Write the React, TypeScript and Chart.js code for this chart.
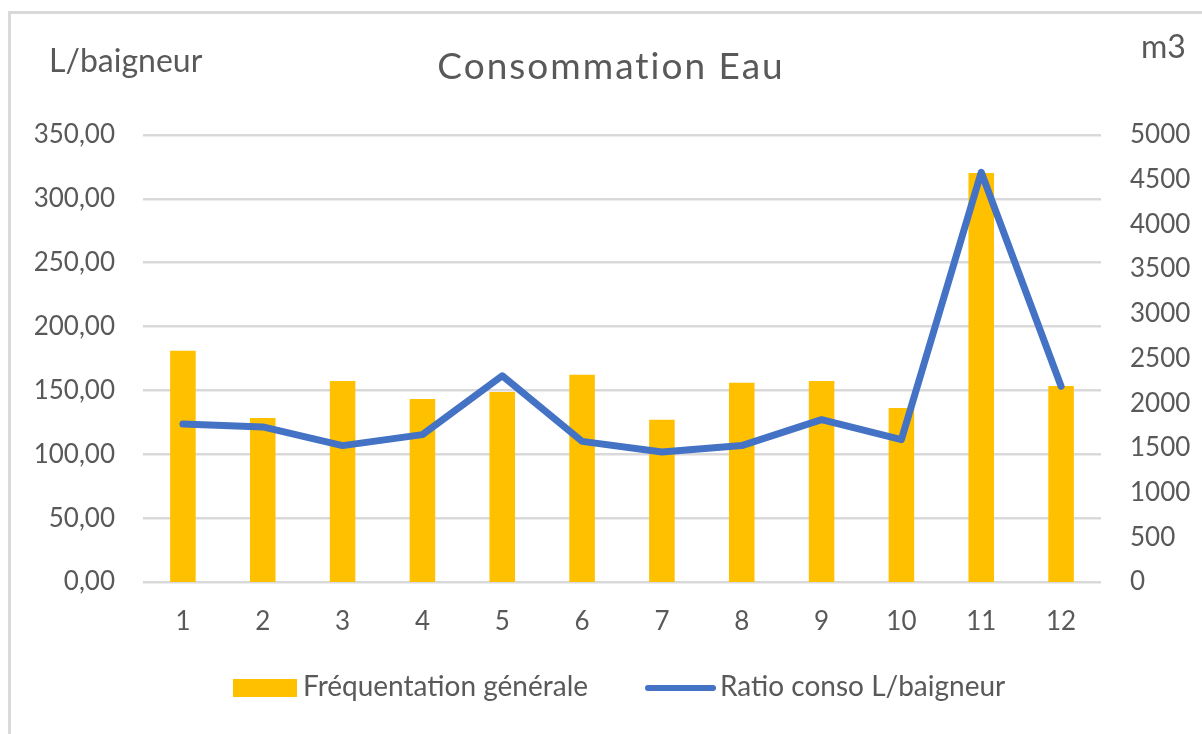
import React, { useEffect, useRef } from "react";
import { Chart, registerables } from "chart.js";

Chart.register(...registerables);

// ---- data ----
const categories = ["1", "2", "3", "4", "5", "6", "7", "8", "9", "10", "11", "12"];
const frequentation = [2587, 1835, 2248, 2047, 2125, 2319, 1816, 2229, 2248, 1946, 4576, 2192];
const ratio = [123.7, 121.4, 106.8, 115.4, 161.5, 110.1, 101.8, 106.8, 127.1, 111.5, 320.8, 153.2];
const chartTitle = "Consommation Eau";
const leftAxisTitle = "L/baigneur";
const rightAxisTitle = "m3";
const barLabel = "Fréquentation générale";
const lineLabel = "Ratio conso L/baigneur";

const FONT = "Lato, 'Liberation Sans', sans-serif";
const TEXT = "#595959";
const BAR = "#FFC000";
const LINE = "#4472C4";
const GRID = "#d9d9d9";

const W = 1202;
const H = 734;

const decor = {
  id: "decor",
  afterDraw(chart: any) {
    const ctx = chart.ctx as CanvasRenderingContext2D;
    ctx.save();
    ctx.fillStyle = TEXT;
    ctx.textBaseline = "alphabetic";

    // title
    ctx.font = `37px ${FONT}`;
    ctx.textAlign = "center";
    (ctx as any).letterSpacing = "2px";
    ctx.fillText(chartTitle, 611, 79);
    (ctx as any).letterSpacing = "0px";

    // axis titles
    ctx.font = `32px ${FONT}`;
    ctx.textAlign = "left";
    ctx.fillText(leftAxisTitle, 49, 72);
    ctx.fillText(rightAxisTitle, 1141, 58);

    // legend
    ctx.font = `28px ${FONT}`;
    ctx.fillStyle = BAR;
    ctx.fillRect(233, 679, 64, 18);
    ctx.fillStyle = TEXT;
    ctx.fillText(barLabel, 303, 696);

    ctx.strokeStyle = LINE;
    ctx.lineWidth = 6;
    ctx.lineCap = "round";
    ctx.beginPath();
    ctx.moveTo(648, 688);
    ctx.lineTo(713, 688);
    ctx.stroke();
    ctx.fillText(lineLabel, 720, 696);
    ctx.restore();
  },
};

export default function App() {
  const ref = useRef<HTMLCanvasElement>(null);

  useEffect(() => {
    if (!ref.current) return;
    const chart = new Chart(ref.current, {
      type: "bar",
      data: {
        labels: categories,
        datasets: [
          {
            type: "line",
            label: lineLabel,
            data: ratio,
            yAxisID: "yL",
            borderColor: LINE,
            backgroundColor: LINE,
            borderWidth: 7,
            pointRadius: 0,
            borderJoinStyle: "round",
            borderCapStyle: "round",
            tension: 0,
            order: 1,
          } as any,
          {
            type: "bar",
            label: barLabel,
            data: frequentation,
            yAxisID: "yR",
            backgroundColor: BAR,
            borderWidth: 0,
            barPercentage: 0.32,
            categoryPercentage: 1,
            order: 2,
          },
        ],
      },
      options: {
        responsive: false,
        animation: false,
        layout: { padding: { top: 135, bottom: 0, left: 0, right: 0 } },
        plugins: {
          legend: { display: false },
          title: { display: false },
          tooltip: { enabled: false },
        },
        scales: {
          x: {
            offset: true,
            grid: { display: false, drawTicks: false },
            border: { display: false },
            ticks: {
              color: TEXT,
              font: { family: FONT, size: 26 },
              padding: 24,
              maxRotation: 0,
            },
            afterFit(scale: any) {
              scale.height = H - 582;
            },
          },
          yL: {
            position: "left",
            min: 0,
            max: 350,
            grid: { color: GRID, lineWidth: 2.5, drawTicks: false },
            border: { display: false },
            ticks: {
              stepSize: 50,
              color: TEXT,
              padding: 28,
              font: { family: FONT, size: 26 },
              callback: (v: any) => Number(v).toFixed(2).replace(".", ","),
            },
            afterFit(scale: any) {
              scale.width = 143;
            },
          },
          yR: {
            position: "right",
            min: 0,
            max: 5000,
            grid: { display: false, drawOnChartArea: false, drawTicks: false },
            border: { display: false },
            ticks: {
              stepSize: 500,
              color: TEXT,
              padding: 29,
              font: { family: FONT, size: 26 },
              callback: (v: any) => String(v),
            },
            afterFit(scale: any) {
              scale.width = W - 1101;
            },
          },
        },
      },
      plugins: [decor],
    } as any);
    return () => chart.destroy();
  }, []);

  return (
    <div
      style={{
        position: "fixed",
        left: 0,
        top: 0,
        width: W,
        height: H,
        background: "#fff",
        overflow: "hidden",
      }}
    >
      <div
        style={{
          position: "absolute",
          left: 8,
          top: 11,
          width: 1400,
          height: 900,
          borderLeft: `3px solid ${GRID}`,
          borderTop: `3px solid ${GRID}`,
          boxSizing: "border-box",
        }}
      />
      <canvas ref={ref} width={W} height={H} style={{ position: "absolute", left: 0, top: 0 }} />
    </div>
  );
}
